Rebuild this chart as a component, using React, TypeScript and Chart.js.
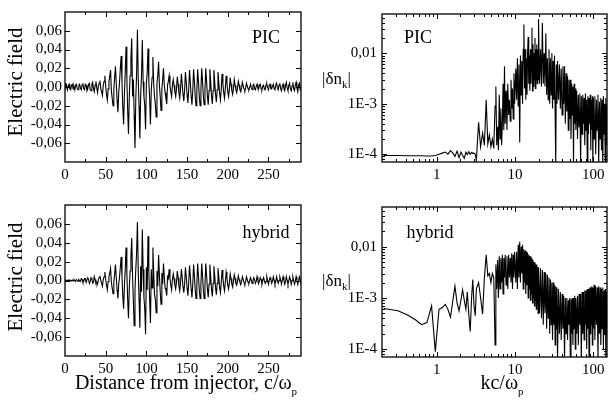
import React, { useEffect, useRef } from 'react';
import { Chart, registerables } from 'chart.js';

Chart.register(...registerables);

// ---------- DATA ----------
// Electric field sampled every 1 c/ω_p from 0 to 290
const distanceStep = 1;
const fieldPIC = [
  0.004, -0.001, 0.002, -0.003, 0.001, 0.003, -0.002, -0.003, 0.002, 0.003,
  -0.002, 0.001, -0.003, 0.002, 0.003, -0.002, -0.003, 0.002, 0.003, -0.001,
  -0.003, 0.002, 0.004, -0.002, -0.003, 0.003, 0.002, -0.004, -0.002, 0.003,
  0.004, -0.003, -0.004, 0.003, 0.005, -0.002, -0.005, 0.002, 0.006, -0.001,
  -0.006, 0.001, 0.004, 0.007, -0.002, -0.005, -0.009, 0.002, 0.006, 0.012,
  0.001, -0.008, -0.014, -0.002, 0.006, 0.012, 0.018, -0.004, -0.012, -0.02,
  -0.003, 0.01, 0.022, 0.004, -0.014, -0.027, -0.006, 0.005, 0.02, 0.033,
  0.006, -0.022, -0.04, -0.008, 0.015, 0.043, 0.01, -0.025, -0.05, -0.01,
  0.012, 0.03, 0.052, -0.01, 0.008, -0.03, -0.065, -0.012, 0.015, 0.061,
  0.008, -0.02, -0.055, -0.008, 0.012, 0.05, 0.006, -0.01, -0.02, -0.045,
  0.004, 0.015, 0.041, 0.006, -0.012, -0.04, -0.004, 0.01, 0.032, 0.003,
  -0.01, -0.018, -0.032, 0.004, 0.012, 0.027, 0.002, -0.01, -0.025, -0.003,
  0.008, 0.02, 0.002, -0.006, -0.012, -0.018, 0.002, 0.006, 0.012, 0.001,
  -0.005, -0.01, 0.002, 0.008, 0.002, -0.005, -0.01, -0.002, 0.011, 0.003,
  -0.006, -0.012, -0.002, 0.014, 0.004, -0.008, -0.015, -0.003, 0.016, 0.005,
  -0.008, -0.017, -0.003, 0.018, 0.005, -0.01, -0.019, -0.004, 0.019, 0.006,
  -0.01, -0.02, -0.004, 0.019, 0.006, -0.01, -0.02, -0.004, 0.02, 0.006,
  -0.01, -0.019, -0.004, 0.02, 0.006, -0.01, -0.019, -0.004, 0.019, 0.006,
  -0.009, -0.018, -0.004, 0.018, 0.005, -0.008, -0.016, -0.003, 0.016, 0.005,
  -0.007, -0.014, -0.003, 0.014, 0.004, -0.006, -0.012, -0.002, 0.012, 0.004,
  -0.005, -0.01, -0.002, 0.01, 0.003, -0.004, -0.008, -0.002, 0.008, 0.002,
  -0.003, -0.006, -0.001, 0.006, 0.002, -0.003, -0.005, -0.001, 0.005, 0.001,
  -0.002, -0.004, -0.001, 0.004, 0.001, -0.002, -0.003, 0.0, 0.003, -0.001,
  -0.003, 0.002, 0.003, -0.002, -0.003, 0.001, 0.003, -0.001, -0.002, 0.002,
  0.003, -0.002, -0.003, 0.001, 0.002, -0.002, -0.003, 0.002, 0.003, -0.001,
  -0.003, 0.002, 0.003, -0.002, -0.002, 0.001, 0.003, -0.002, -0.003, 0.002,
  0.004, -0.001, -0.003, 0.002, 0.004, -0.002, -0.004, 0.001, 0.003, -0.002,
  -0.004, 0.002, 0.005, -0.001, -0.004, 0.002, 0.004, -0.002, -0.004, 0.001,
  0.005, -0.002, -0.004, 0.002, 0.005, -0.001, -0.005, 0.002, 0.004, -0.003,
  -0.004,
];
const fieldHybrid = [
  0.0, 0.0005, -0.0005, 0.0, 0.0005, -0.0005, 0.0005, 0.0, -0.0005, 0.0005,
  -0.0005, 0.001, 0.0, -0.001, 0.001, 0.0, -0.001, 0.001, 0.0, -0.001,
  0.002, 0.001, -0.002, -0.001, 0.002, 0.002, -0.002, -0.002, 0.003, 0.001,
  -0.003, -0.001, 0.003, 0.002, -0.003, -0.002, 0.004, 0.001, -0.003, -0.002,
  -0.004, 0.001, 0.003, 0.005, 0.0, -0.003, -0.006, 0.001, 0.004, 0.009,
  0.001, -0.005, -0.01, -0.001, 0.004, 0.008, 0.013, -0.002, -0.008, -0.014,
  -0.002, 0.007, 0.017, 0.003, -0.01, -0.019, -0.004, 0.004, 0.014, 0.025,
  0.004, -0.016, -0.03, -0.006, 0.012, 0.035, 0.008, -0.02, -0.04, -0.008,
  0.01, 0.025, 0.045, 0.005, -0.022, -0.048, -0.01, 0.012, 0.03, 0.062,
  0.01, -0.02, -0.05, 0.015, -0.012, 0.054, 0.012, -0.018, -0.03, -0.057,
  0.014, -0.01, 0.047, 0.01, -0.02, -0.045, 0.012, -0.008, 0.035, 0.008,
  -0.015, -0.02, -0.034, 0.01, -0.006, 0.027, 0.006, -0.012, -0.025, 0.008,
  -0.004, 0.018, 0.004, -0.008, -0.01, -0.016, 0.004, 0.002, 0.012, 0.002,
  -0.005, -0.01, 0.001, 0.007, 0.002, -0.005, -0.009, -0.002, 0.01, 0.003,
  -0.006, -0.011, -0.002, 0.012, 0.004, -0.007, -0.013, -0.003, 0.014, 0.004,
  -0.008, -0.016, -0.003, 0.016, 0.005, -0.009, -0.018, -0.004, 0.017, 0.005,
  -0.01, -0.019, -0.004, 0.018, 0.005, -0.01, -0.019, -0.004, 0.018, 0.005,
  -0.01, -0.019, -0.004, 0.018, 0.005, -0.009, -0.018, -0.004, 0.017, 0.005,
  -0.009, -0.017, -0.003, 0.015, 0.005, -0.008, -0.015, -0.003, 0.013, 0.004,
  -0.007, -0.013, -0.003, 0.011, 0.003, -0.006, -0.011, -0.002, 0.009, 0.003,
  -0.005, -0.009, -0.002, 0.007, 0.002, -0.004, -0.007, -0.001, 0.006, 0.002,
  -0.003, -0.005, -0.001, 0.005, 0.001, -0.002, -0.004, -0.001, 0.004, 0.001,
  -0.002, -0.004, -0.001, 0.004, 0.001, -0.002, -0.003, 0.0, 0.003, 0.0,
  -0.003, 0.0, 0.003, 0.001, -0.003, -0.001, 0.004, 0.0, -0.003, 0.0,
  0.003, 0.001, -0.004, 0.0, 0.003, 0.0, -0.003, -0.001, 0.004, 0.0,
  -0.004, 0.0, 0.003, 0.001, -0.003, 0.0, 0.004, 0.0, -0.004, -0.001,
  0.004, 0.0, -0.003, 0.0, 0.004, 0.001, -0.004, 0.0, 0.004, 0.0,
  -0.004, -0.001, 0.004, 0.0, -0.004, 0.0, 0.004, 0.001, -0.004, 0.0,
  0.004, 0.0, -0.004, -0.001, 0.004, 0.0, -0.004, 0.0, 0.004, 0.001,
  -0.004,
];

// Spectrum |δn_k| versus kc/ω_p
const kGrid = [
  0.21, 0.32, 0.43, 0.54, 0.64, 0.75, 0.86, 0.96, 1.07, 1.18,
  1.29, 1.39, 1.5, 1.61, 1.71, 1.82, 1.93, 2.04, 2.14, 2.25,
  2.36, 2.46, 2.57, 2.68, 2.79, 2.89, 3.0, 3.11, 3.21,
  3.43, 3.64, 3.86, 4.07, 4.29, 4.5, 4.71, 4.93, 5.14, 5.36, 5.57,
  5.7, 5.85, 6.0, 6.15, 6.3, 6.45, 6.6, 6.75, 6.9, 7.05,
  7.2, 7.35, 7.5, 7.7, 7.9, 8.1, 8.3, 8.5, 8.7, 8.9,
  9.1, 9.3, 9.5, 9.7, 9.9,
  10.25, 10.5, 10.75, 11, 11.25, 11.5, 11.75, 12, 12.25, 12.5,
  12.75, 13, 13.25, 13.5, 13.75, 14, 14.25, 14.5, 14.75, 15,
  15.25, 15.5, 15.75, 16, 16.25, 16.5, 16.75, 17, 17.25, 17.5,
  17.75, 18, 18.25, 18.5, 18.75, 19, 19.25, 19.5, 19.75, 20,
  20.6, 21.2, 21.8, 22.4, 23, 23.6, 24.2, 24.8, 25.4, 26,
  26.6, 27.2, 27.8, 28.4, 29, 29.6, 30.2, 30.8, 31.4, 32,
  32.6, 33.2, 33.8, 34.4, 35,
  36, 37, 38, 39, 40, 41, 42, 43, 44, 45,
  46, 47, 48, 49, 50, 51, 52, 53, 54, 55,
  56, 57, 58, 59, 60,
  61.5, 63, 64.5, 66, 67.5, 69, 70.5, 72, 73.5, 75,
  76.5, 78, 79.5, 81, 82.5, 84, 85.5, 87, 88.5, 90,
  91.5, 93, 94.5, 96, 97.5, 99, 100.5,
  102.5, 105, 107.5, 110, 112.5, 115, 117.5, 120, 122.5, 125,
  127.5, 130, 132.5, 135, 137.5, 140, 142.5, 145, 147.5, 150,
];
const spectrumPIC = [
  9.4e-5, 9.4e-5, 9.3e-5, 9.3e-5, 9.3e-5, 9.2e-5, 9.2e-5, 9.4e-5, 1.0e-4, 1.05e-4,
  1.1e-4, 1.0e-4, 1.18e-4, 1.05e-4, 9.0e-5, 1.15e-4, 8.5e-5, 1.1e-4, 9.5e-5, 8.3e-5,
  1.1e-4, 9.8e-5, 1.12e-4, 1.0e-4, 1.08e-4, 1.04e-4, 1.05e-4, 1.0e-4, 7.5e-5,
  4.3e-4, 1.4e-4, 2.6e-4, 1.5e-4, 1.2e-3, 1.6e-4, 2.4e-4, 1.4e-4, 2.0e-4, 1.3e-4, 9.0e-4,
  2.2e-3, 1.5e-4, 3.5e-4, 1.2e-4, 1.5e-3, 2.0e-4, 8.0e-4, 1.5e-4, 4.0e-4, 2.5e-3,
  3.0e-4, 5.5e-3, 4.0e-4, 1.8e-3, 3.0e-4, 2.5e-3, 6.0e-4, 1.2e-3, 4.5e-4, 3.0e-3,
  8.0e-4, 2.0e-3, 5.0e-4, 4.0e-3, 1.0e-3,
  5.0e-3, 1.2e-3, 8.0e-3, 9.0e-4, 6.0e-3, 1.7e-4, 9.0e-3, 1.5e-3, 7.0e-3, 1.0e-3,
  0.012, 0.037, 2.0e-3, 0.012, 1.2e-3, 8.0e-3, 1.5e-3, 0.01, 0.021, 2.5e-3,
  9.0e-3, 1.8e-3, 0.012, 2.5e-3, 8.0e-3, 0.032, 1.8e-3, 0.015, 2.2e-3, 0.01,
  3.0e-3, 0.02, 2.0e-3, 0.012, 3.0e-3, 0.015, 2.5e-3, 0.012, 3.0e-3, 0.047,
  2.5e-3, 0.012, 2.2e-3, 0.04, 2.5e-3, 0.01, 2.2e-3, 0.025, 1.5e-3, 8.0e-3,
  1.2e-3, 0.012, 1.0e-3, 8.0e-3, 1.5e-3, 0.01, 8.0e-4, 7.0e-3, 1.2e-3, 9.0e-3,
  7.0e-4, 6.0e-5, 6.0e-3, 1.0e-3, 7.0e-3,
  1.2e-3, 6.0e-3, 8.0e-4, 5.0e-3, 6.0e-4, 5.5e-3, 1.0e-3, 5.5e-3, 4.0e-4, 4.0e-3,
  7.0e-4, 3.5e-3, 3.0e-4, 3.0e-3, 5.0e-4, 3.0e-3, 2.0e-4, 2.5e-3, 6.0e-4, 2.2e-3,
  6.0e-5, 2.5e-3, 4.0e-4, 2.0e-3, 3.0e-4,
  1.8e-3, 2.0e-4, 1.5e-3, 3.5e-4, 1.6e-3, 6.0e-5, 1.4e-3, 2.5e-4, 1.5e-3, 4.0e-4,
  1.3e-3, 1.5e-4, 1.6e-3, 3.0e-4, 1.2e-3, 6.0e-5, 1.4e-3, 2.5e-4, 1.3e-3, 4.0e-4,
  1.5e-3, 1.2e-4, 1.2e-3, 3.0e-4, 1.4e-3, 5.0e-5, 1.3e-3,
  2.0e-4, 1.4e-3, 1.0e-4, 1.2e-3, 3.0e-4, 1.5e-3, 6.0e-5, 1.1e-3, 2.0e-4, 1.3e-3,
  1.2e-4, 1.2e-3, 5.0e-5, 1.4e-3, 2.5e-4, 1.0e-3, 6.0e-5, 1.3e-3, 1.5e-4, 9.0e-4,
];
const spectrumHybrid = [
  6.2e-4, 5.6e-4, 4.6e-4, 3.7e-4, 3.0e-4, 3.3e-4, 7.0e-4, 8.9e-5, 6.0e-4, 6.5e-4,
  7.5e-4, 6.0e-4, 4.2e-4, 9.0e-4, 1.7e-3, 8.0e-4, 5.6e-4, 9.0e-4, 1.45e-3, 9.0e-4,
  6.0e-4, 1.3e-3, 4.8e-4, 2.2e-4, 1.0e-3, 2.3e-3, 7.0e-4, 4.5e-4, 1.5e-3,
  2.0e-3, 1.0e-3, 4.8e-4, 2.5e-3, 7.0e-3, 2.7e-3, 3.0e-3, 2.0e-3, 3.0e-3, 2.5e-3, 1.2e-4,
  4.5e-3, 1.5e-3, 5.5e-3, 1.0e-3, 6.5e-3, 1.5e-3, 6.0e-3, 2.0e-3, 7.0e-3, 1.2e-3,
  6.0e-3, 2.5e-3, 7.0e-3, 1.8e-3, 6.5e-3, 1.5e-3, 7.0e-3, 2.5e-3, 6.0e-3, 2.0e-3,
  7.5e-3, 1.5e-3, 7.0e-3, 2.5e-3, 8.0e-3,
  2.0e-3, 8.0e-3, 1.5e-3, 0.011, 2.5e-3, 0.0125, 2.0e-3, 0.01, 3.0e-3, 0.011,
  1.5e-3, 9.0e-3, 2.0e-3, 8.5e-3, 1.2e-3, 8.0e-3, 1.8e-3, 7.5e-3, 1.0e-3, 7.0e-3,
  1.5e-3, 6.5e-3, 9.0e-4, 6.5e-3, 1.2e-3, 6.0e-3, 8.0e-4, 5.5e-3, 1.0e-3, 5.0e-3,
  7.0e-4, 5.0e-3, 9.0e-4, 4.5e-3, 6.0e-4, 4.5e-3, 8.0e-4, 4.0e-3, 5.0e-4, 4.0e-3,
  5.0e-4, 3.8e-3, 4.0e-4, 3.5e-3, 3.0e-4, 3.2e-3, 5.0e-4, 3.0e-3, 2.5e-4, 2.8e-3,
  4.0e-4, 2.5e-3, 2.0e-4, 2.3e-3, 3.0e-4, 2.0e-3, 1.5e-4, 2.0e-3, 3.0e-4, 1.8e-3,
  1.2e-4, 1.7e-3, 2.5e-4, 1.6e-3, 6.0e-5,
  1.5e-3, 2.0e-4, 1.3e-3, 1.5e-4, 1.2e-3, 2.5e-4, 1.1e-3, 6.0e-5, 1.0e-3, 2.0e-4,
  1.0e-3, 1.5e-4, 9.0e-4, 3.0e-4, 1.0e-3, 6.0e-5, 9.5e-4, 2.0e-4, 1.0e-3, 1.2e-4,
  1.0e-3, 2.5e-4, 1.1e-3, 1.0e-4, 1.0e-3,
  2.0e-4, 1.1e-3, 1.2e-4, 1.2e-3, 3.0e-4, 1.2e-3, 6.0e-5, 1.3e-3, 2.0e-4, 1.3e-3,
  1.5e-4, 1.4e-3, 3.0e-4, 1.4e-3, 1.0e-4, 1.5e-3, 2.5e-4, 1.5e-3, 6.0e-5, 1.6e-3,
  2.0e-4, 1.6e-3, 3.0e-4, 1.7e-3, 1.2e-4, 1.6e-3, 2.5e-4,
  1.8e-3, 1.5e-4, 1.7e-3, 3.0e-4, 1.6e-3, 6.0e-5, 1.7e-3, 2.0e-4, 1.6e-3, 1.2e-4,
  1.5e-3, 2.5e-4, 1.6e-3, 1.0e-4, 1.4e-3, 2.0e-4, 1.5e-3, 6.0e-5, 1.3e-3, 2.0e-4,
];

// Tick labels
const distanceTickValues = [0, 50, 100, 150, 200, 250];
const distanceTickLabels = ['0', '50', '100', '150', '200', '250'];
const fieldTickValues = [-0.06, -0.04, -0.02, 0, 0.02, 0.04, 0.06];
const fieldTickLabels = ['-0,06', '-0,04', '-0,02', '0,00', '0,02', '0,04', '0,06'];
const kTickValues = [1, 10, 100];
const kTickLabels = ['1', '10', '100'];
const spectrumTickValues = [1e-4, 1e-3, 1e-2];
const spectrumTickLabels = ['1E-4', '1E-3', '0,01'];

// ---------- LAYOUT / STYLE ----------
const W = 609;
const H = 405;
const AXIS_W = 50;
const AXIS_H = 20;
const SERIF = "'Liberation Serif', 'Times New Roman', serif";

type Tick = { value: number; major: boolean };
type Area = { left: number; top: number; right: number; bottom: number };
type RichPart = { text: string; size: number; dy?: number };
type TextLabel = { parts: RichPart[]; x: number; y: number; align: 'left' | 'center'; rotate?: boolean };

const labelFor = (values: number[], labels: string[], v: number) => {
  const i = values.findIndex((t) => Math.abs(t - v) <= Math.abs(t) * 1e-6 + 1e-12);
  return i >= 0 ? labels[i] : '';
};

const distanceTicks: Tick[] = [];
for (let v = 0; v <= 290; v += 25) distanceTicks.push({ value: v, major: v % 50 === 0 });
const fieldTicks: Tick[] = [];
for (let i = -4; i <= 4; i++) fieldTicks.push({ value: Math.round(i * 2) / 100, major: true });

const logTicks = (min: number, max: number, decades: number[]): Tick[] => {
  const out: Tick[] = [];
  decades.forEach((d) => {
    for (let m = 1; m <= 9; m++) {
      const v = m * d;
      if (v >= min * 0.999 && v <= max * 1.001) out.push({ value: v, major: m === 1 });
    }
  });
  return out;
};
const K_MIN = 0.2;
const K_MAX = 150;
const N_MIN = 7.2e-5;
const N_MAX = 0.06;
const kTicks = logTicks(K_MIN, K_MAX, [0.1, 1, 10, 100]);
const nTicks = logTicks(N_MIN, N_MAX, [1e-5, 1e-4, 1e-3, 1e-2]);

type PanelSpec = {
  kind: 'field' | 'spectrum';
  xs: number[];
  ys: number[];
  area: Area;
  lineWidth: number;
  texts: TextLabel[];
};

const distances = fieldPIC.map((_, i) => i * distanceStep);

const panels: PanelSpec[] = [
  {
    kind: 'field',
    xs: distances,
    ys: fieldPIC,
    area: { left: 65, top: 10, right: 301, bottom: 162 },
    lineWidth: 1.1,
    texts: [
      { parts: [{ text: 'Electric field', size: 21 }], x: 22, y: 82, align: 'center', rotate: true },
      { parts: [{ text: 'PIC', size: 18 }], x: 266, y: 43, align: 'center' },
    ],
  },
  {
    kind: 'field',
    xs: distances,
    ys: fieldHybrid,
    area: { left: 65, top: 205, right: 301, bottom: 356 },
    lineWidth: 1.1,
    texts: [
      { parts: [{ text: 'Electric field', size: 21 }], x: 22, y: 277, align: 'center', rotate: true },
      { parts: [{ text: 'hybrid', size: 18 }], x: 266, y: 238, align: 'center' },
      {
        parts: [{ text: 'Distance from injector, c/ω', size: 20 }, { text: 'p', size: 11, dy: 6 }],
        x: 186, y: 389, align: 'center',
      },
    ],
  },
  {
    kind: 'spectrum',
    xs: kGrid,
    ys: spectrumPIC,
    area: { left: 382, top: 11, right: 607, bottom: 162 },
    lineWidth: 1.1,
    texts: [
      { parts: [{ text: '|δn', size: 17 }, { text: 'k', size: 11, dy: 4 }, { text: '|', size: 17 }], x: 322, y: 84, align: 'left' },
      { parts: [{ text: 'PIC', size: 18 }], x: 418, y: 43, align: 'center' },
    ],
  },
  {
    kind: 'spectrum',
    xs: kGrid,
    ys: spectrumHybrid,
    area: { left: 382, top: 207, right: 607, bottom: 357 },
    lineWidth: 1.1,
    texts: [
      { parts: [{ text: '|δn', size: 17 }, { text: 'k', size: 11, dy: 4 }, { text: '|', size: 17 }], x: 322, y: 286, align: 'left' },
      { parts: [{ text: 'hybrid', size: 18 }], x: 430, y: 238, align: 'center' },
      {
        parts: [{ text: 'kc/ω', size: 20 }, { text: 'p', size: 11, dy: 6 }],
        x: 502, y: 389, align: 'center',
      },
    ],
  },
];

function drawRich(ctx: CanvasRenderingContext2D, label: TextLabel) {
  ctx.save();
  ctx.translate(label.x, label.y);
  if (label.rotate) ctx.rotate(-Math.PI / 2);
  ctx.textBaseline = 'alphabetic';
  ctx.textAlign = 'left';
  ctx.fillStyle = '#000';
  let total = 0;
  const widths = label.parts.map((p) => {
    ctx.font = `${p.size}px ${SERIF}`;
    const w = ctx.measureText(p.text).width;
    total += w;
    return w;
  });
  let cx = label.align === 'center' ? -total / 2 : 0;
  label.parts.forEach((p, i) => {
    ctx.font = `${p.size}px ${SERIF}`;
    ctx.fillText(p.text, cx, p.dy || 0);
    cx += widths[i];
  });
  ctx.restore();
}

function makeDecor(spec: PanelSpec, xTicks: Tick[], yTicks: Tick[]) {
  return {
    id: 'decor',
    afterDraw(chart: any) {
      const ctx: CanvasRenderingContext2D = chart.ctx;
      const a = chart.chartArea;
      const xs = chart.scales.x;
      const ys = chart.scales.y;
      ctx.save();
      ctx.strokeStyle = '#000';
      ctx.lineWidth = 1;
      ctx.beginPath();
      xTicks.forEach((t) => {
        const p = Math.round(xs.getPixelForValue(t.value)) + 0.5;
        if (p < a.left + 1 || p > a.right - 1) return;
        const len = t.major ? 5 : 3;
        ctx.moveTo(p, a.bottom);
        ctx.lineTo(p, a.bottom - len);
        ctx.moveTo(p, a.top);
        ctx.lineTo(p, a.top + len);
      });
      yTicks.forEach((t) => {
        const p = Math.round(ys.getPixelForValue(t.value)) + 0.5;
        if (p < a.top + 1 || p > a.bottom - 1) return;
        const len = t.major ? 5 : 3;
        ctx.moveTo(a.left, p);
        ctx.lineTo(a.left + len, p);
        ctx.moveTo(a.right, p);
        ctx.lineTo(a.right - len, p);
      });
      ctx.stroke();
      ctx.lineWidth = 1.3;
      ctx.strokeRect(a.left, a.top, a.right - a.left, a.bottom - a.top);
      ctx.restore();
      spec.texts.forEach((t) => drawRich(ctx, t));
    },
  };
}

function buildConfig(spec: PanelSpec): any {
  const isField = spec.kind === 'field';
  const xTicks = isField ? distanceTicks : kTicks;
  const yTicks = isField ? fieldTicks : nTicks;
  const n = Math.min(spec.xs.length, spec.ys.length);
  const points = [];
  for (let i = 0; i < n; i++) points.push({ x: spec.xs[i], y: spec.ys[i] });
  const tickFont = { family: SERIF, size: 15 };
  const { area } = spec;
  return {
    type: 'line',
    data: {
      datasets: [
        {
          data: points,
          borderColor: '#000',
          borderWidth: spec.lineWidth,
          pointRadius: 0,
          fill: false,
          tension: 0,
        },
      ],
    },
    options: {
      responsive: false,
      animation: false,
      devicePixelRatio: 1,
      events: [],
      layout: {
        padding: {
          left: area.left - AXIS_W,
          top: area.top,
          right: W - area.right,
          bottom: H - area.bottom - AXIS_H,
        },
      },
      plugins: { legend: { display: false }, tooltip: { enabled: false }, title: { display: false } },
      scales: {
        x: {
          type: isField ? 'linear' : 'logarithmic',
          min: isField ? 0 : K_MIN,
          max: isField ? 290 : K_MAX,
          afterFit: (s: any) => {
            s.height = AXIS_H;
          },
          afterBuildTicks: (s: any) => {
            s.ticks = xTicks.map((t) => ({ value: t.value }));
          },
          grid: { display: false, drawTicks: false },
          border: { display: false },
          ticks: {
            autoSkip: false,
            maxRotation: 0,
            minRotation: 0,
            padding: 4,
            color: '#000',
            font: tickFont,
            callback: (v: number) =>
              isField ? labelFor(distanceTickValues, distanceTickLabels, v) : labelFor(kTickValues, kTickLabels, v),
          },
        },
        y: {
          type: isField ? 'linear' : 'logarithmic',
          min: isField ? -0.08 : N_MIN,
          max: isField ? 0.08 : N_MAX,
          afterFit: (s: any) => {
            s.width = AXIS_W;
          },
          afterBuildTicks: (s: any) => {
            s.ticks = yTicks.map((t) => ({ value: t.value }));
          },
          grid: { display: false, drawTicks: false },
          border: { display: false },
          ticks: {
            autoSkip: false,
            padding: isField ? 3 : 5,
            color: '#000',
            font: tickFont,
            callback: (v: number) =>
              isField
                ? labelFor(fieldTickValues, fieldTickLabels, v)
                : labelFor(spectrumTickValues, spectrumTickLabels, v),
          },
        },
      },
    },
    plugins: [makeDecor(spec, xTicks, yTicks)],
  };
}

function Panel({ spec }: { spec: PanelSpec }) {
  const ref = useRef<HTMLCanvasElement>(null);
  useEffect(() => {
    if (!ref.current) return;
    const chart = new Chart(ref.current, buildConfig(spec));
    return () => chart.destroy();
  }, [spec]);
  return (
    <canvas
      ref={ref}
      width={W}
      height={H}
      style={{ position: 'absolute', left: 0, top: 0, width: W, height: H }}
    />
  );
}

export default function App() {
  return (
    <div style={{ position: 'fixed', left: 0, top: 0, width: W, height: H, background: '#fff', overflow: 'hidden' }}>
      {panels.map((p, i) => (
        <Panel key={i} spec={p} />
      ))}
    </div>
  );
}
